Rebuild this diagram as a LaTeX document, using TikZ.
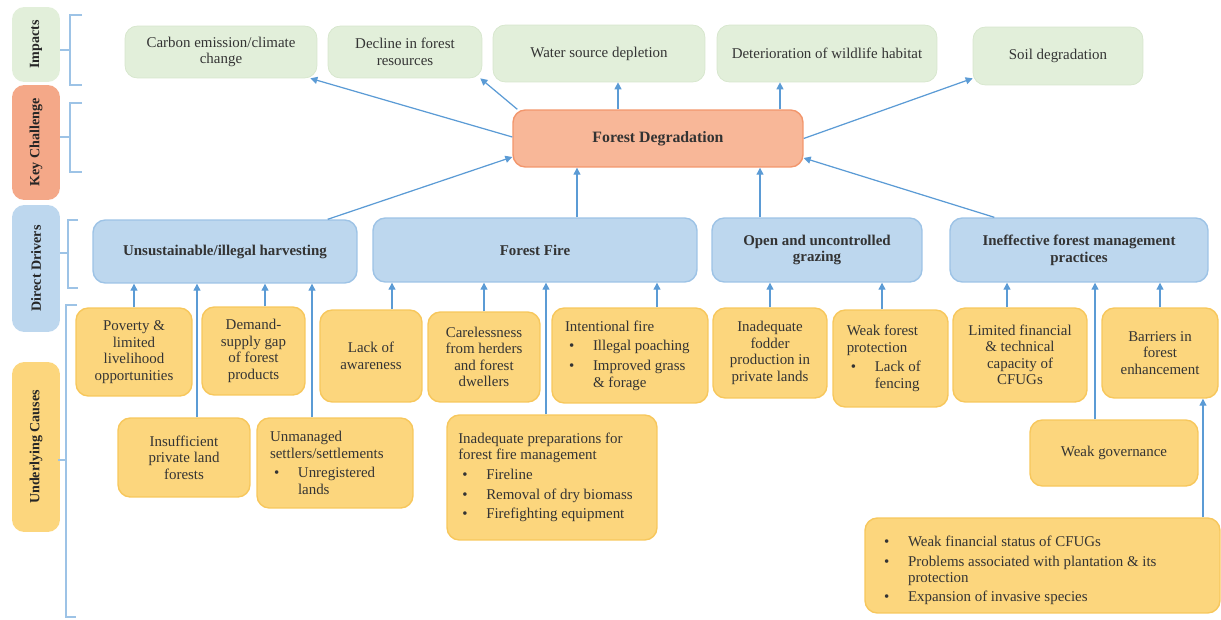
\documentclass[tikz,border=0pt]{standalone}
\usepackage{fontspec}
\setmainfont{Liberation Serif}
\usepackage{tikz}
\usetikzlibrary{arrows.meta}
\definecolor{impGreen}{RGB}{226,239,218}
\definecolor{impGreenLine}{RGB}{214,230,204}
\definecolor{keyRed}{RGB}{244,168,136}
\definecolor{fdFill}{RGB}{248,183,152}
\definecolor{fdLine}{RGB}{242,150,108}
\definecolor{drvBlue}{RGB}{189,215,238}
\definecolor{drvLine}{RGB}{157,195,230}
\definecolor{cauYellow}{RGB}{252,214,125}
\definecolor{cauLine}{RGB}{247,199,92}
\definecolor{linkBlue}{RGB}{91,155,213}
\definecolor{inkGrey}{RGB}{52,52,52}
% bullet line: #1 = width of the text part
\newcommand{\bitem}[2]{\par\vspace{1.8pt}\noindent\makebox[0.56cm][l]{\hspace{0.08cm}\textbullet}\parbox[t]{#1}{\raggedright #2}}
\tikzstyle{baseBox} = [rectangle, rounded corners=7pt, inner sep=2pt,
   font=\fontsize{8.5}{9.4}\selectfont, text=inkGrey]
\tikzstyle{sideBox} = [baseBox, rotate=90, minimum height=0.96cm,
   font=\fontsize{8}{9}\selectfont\bfseries, text=black!85]
\tikzstyle{impactBox} = [baseBox, fill=impGreen, draw=impGreenLine, align=center]
\tikzstyle{challengeBox} = [baseBox, fill=fdFill, draw=fdLine, line width=0.8pt,
   font=\fontsize{9}{10}\selectfont\bfseries, text=black!80]
\tikzstyle{driverBox} = [baseBox, fill=drvBlue, draw=drvLine, line width=0.8pt, align=center,
   font=\fontsize{8.5}{9.6}\selectfont\bfseries, text=black!80]
\tikzstyle{causeBox} = [baseBox, fill=cauYellow, draw=cauLine, line width=0.8pt, align=center]
\tikzstyle{listBox} = [causeBox, align=flush left]
\tikzstyle{upArrow} = [draw=linkBlue, line width=0.7pt, -{Triangle[length=4pt,width=4pt]}]
\tikzstyle{bracketLine} = [draw=drvLine, line width=0.8pt]

\begin{document}
\begin{tikzpicture}[x=0.02cm, y=-0.02cm]
  \useasboundingbox (0,0) rectangle (1221,619);

  % level labels on the left
  \node[sideBox, fill=impGreen, minimum width=1.5cm] (sImp) at (36,44.5) {Impacts};
  \node[sideBox, fill=keyRed, minimum width=2.3cm] (sKey) at (36,142.5) {Key Challenge};
  \node[sideBox, fill=drvBlue, minimum width=2.54cm] (sDrv) at (36,268.5) {Direct Drivers};
  \node[sideBox, fill=cauYellow, minimum width=3.4cm] (sCau) at (36,447) {Underlying Causes};

  \draw[bracketLine] (82,15) -- (70,15) -- (70,85) -- (82,85) (60,50) -- (70,50);
  \draw[bracketLine] (82,103) -- (70,103) -- (70,172) -- (82,172) (60,137) -- (70,137);
  \draw[bracketLine] (78,220) -- (68,220) -- (68,288) -- (78,288) (60,253) -- (68,253);
  \draw[bracketLine] (77,305) -- (66,305) -- (66,617) -- (76,617) (58,460) -- (66,460);

  % impacts
  \node[impactBox, minimum width=3.84cm, minimum height=1.04cm] (imp1) at (221,52) {Carbon emission/climate\\change};
  \node[impactBox, minimum width=3.08cm, minimum height=1.04cm] (imp2) at (405,52) {Decline in forest\\resources};
  \node[impactBox, minimum width=4.24cm, minimum height=1.14cm] (imp3) at (599,53.5) {Water source depletion};
  \node[impactBox, minimum width=4.4cm, minimum height=1.14cm] (imp4) at (827,53.5) {Deterioration of wildlife habitat};
  \node[impactBox, minimum width=3.4cm, minimum height=1.16cm] (imp5) at (1058,56) {Soil degradation};

  % key challenge
  \node[challengeBox, minimum width=5.8cm, minimum height=1.14cm] (fd) at (658,138.5) {Forest Degradation};

  % direct drivers
  \node[driverBox, minimum width=5.28cm, minimum height=1.26cm] (drv1) at (225,251.5) {Unsustainable/illegal harvesting};
  \node[driverBox, minimum width=6.48cm, minimum height=1.28cm] (drv2) at (535,250) {Forest Fire};
  \node[driverBox, minimum width=4.2cm, minimum height=1.28cm] (drv3) at (817,250) {Open and uncontrolled\\grazing};
  \node[driverBox, minimum width=5.16cm, minimum height=1.28cm] (drv4) at (1079,250) {Ineffective forest management\\practices};

  % underlying causes
  \node[causeBox, minimum width=2.32cm, minimum height=1.76cm] (c1) at (134,352) {Poverty \&\\limited\\livelihood\\opportunities};
  \node[causeBox, minimum width=2.06cm, minimum height=1.76cm] (c2) at (253.5,351) {Demand-\\supply gap\\of forest\\products};
  \node[causeBox, minimum width=2.04cm, minimum height=1.84cm] (c3) at (371,356) {Lack of\\awareness};
  \node[causeBox, minimum width=2.24cm, minimum height=1.8cm] (c4) at (484,357) {Carelessness\\from herders\\and forest\\dwellers};
  \node[listBox, minimum width=3.12cm, minimum height=1.9cm, text width=2.6cm] (c5) at (630,355.5)
    {Intentional fire\bitem{2.0cm}{Illegal poaching}\bitem{2.0cm}{Improved grass\\\& forage}};
  \node[causeBox, minimum width=2.28cm, minimum height=1.8cm] (c6) at (770,353) {Inadequate\\fodder\\production in\\private lands};
  \node[listBox, minimum width=2.3cm, minimum height=1.94cm, text width=1.75cm] (c7) at (890.5,358.5)
    {Weak forest\\protection\bitem{1.2cm}{Lack of\\fencing}};
  \node[causeBox, minimum width=2.68cm, minimum height=1.88cm] (c8) at (1020,355) {Limited financial\\\& technical\\capacity of\\CFUGs};
  \node[causeBox, minimum width=2.32cm, minimum height=1.8cm] (c9) at (1160,353) {Barriers in\\forest\\enhancement};
  \node[causeBox, minimum width=2.64cm, minimum height=1.58cm] (c10) at (184,457.5) {Insufficient\\private land\\forests};
  \node[listBox, minimum width=3.12cm, minimum height=1.8cm, text width=2.6cm] (c11) at (335,463)
    {Unmanaged\\settlers/settlements\bitem{2.0cm}{Unregistered\\lands}};
  \node[listBox, minimum width=4.2cm, minimum height=2.5cm, text width=3.75cm] (c12) at (552,477.5)
    {Inadequate preparations for\\forest fire management\bitem{3.1cm}{Fireline}\bitem{3.1cm}{Removal of dry biomass}\bitem{3.1cm}{Firefighting equipment}};
  \node[causeBox, minimum width=3.36cm, minimum height=1.32cm] (c13) at (1114,453) {Weak governance};
  \node[listBox, minimum width=7.1cm, minimum height=1.9cm, text width=6.5cm] (c14) at (1042.5,565.5)
    {\bitem{5.9cm}{Weak financial status of CFUGs}\bitem{5.9cm}{Problems associated with plantation \& its\\protection}\bitem{5.9cm}{Expansion of invasive species}};

  % forest degradation to impacts
  \draw[upArrow] ([yshift=0.03cm]fd.west) -- ([xshift=-0.14cm]imp1.south east);
  \draw[upArrow] ([xshift=0.1cm]fd.north west) -- ([xshift=-0.04cm]imp2.south east);
  \draw[upArrow] ([xshift=-0.8cm]fd.north) -- ([xshift=-0.8cm]fd.north |- imp3.south);
  \draw[upArrow] ([xshift=2.44cm]fd.north) -- ([xshift=2.44cm]fd.north |- imp4.south);
  \draw[upArrow] (fd.east) -- ([yshift=0.14cm]imp5.south west);

  % drivers to forest degradation
  \draw[upArrow] ([xshift=-0.6cm]drv1.north east) -- ([yshift=-0.37cm]fd.west);
  \draw[upArrow] ([xshift=0.84cm]drv2.north) -- ([xshift=0.84cm]drv2.north |- fd.south);
  \draw[upArrow] ([xshift=-1.14cm]drv3.north) -- ([xshift=-1.14cm]drv3.north |- fd.south);
  \draw[upArrow] ([xshift=0.9cm]drv4.north west) -- ([yshift=-0.39cm]fd.east);

  % causes to drivers
  \draw[upArrow] (c1.north) -- (c1.north |- drv1.south);
  \draw[upArrow] ([xshift=0.23cm]c2.north) -- ([xshift=0.23cm]c2.north |- drv1.south);
  \draw[upArrow] ([xshift=0.26cm]c10.north) -- ([xshift=0.26cm]c10.north |- drv1.south);
  \draw[upArrow] ([xshift=-0.46cm]c11.north) -- ([xshift=-0.46cm]c11.north |- drv1.south);
  \draw[upArrow] ([xshift=0.42cm]c3.north) -- ([xshift=0.42cm]c3.north |- drv2.south);
  \draw[upArrow] (c4.north) -- (c4.north |- drv2.south);
  \draw[upArrow] ([xshift=-0.12cm]c12.north) -- ([xshift=-0.12cm]c12.north |- drv2.south);
  \draw[upArrow] ([xshift=0.54cm]c5.north) -- ([xshift=0.54cm]c5.north |- drv2.south);
  \draw[upArrow] (c6.north) -- (c6.north |- drv3.south);
  \draw[upArrow] ([xshift=-0.17cm]c7.north) -- ([xshift=-0.17cm]c7.north |- drv3.south);
  \draw[upArrow] ([xshift=-0.26cm]c8.north) -- ([xshift=-0.26cm]c8.north |- drv4.south);
  \draw[upArrow] ([xshift=-0.38cm]c13.north) -- ([xshift=-0.38cm]c13.north |- drv4.south);
  \draw[upArrow] (c9.north) -- (c9.north |- drv4.south);
  \draw[upArrow] ([xshift=3.21cm]c14.north) -- ([xshift=3.21cm]c14.north |- c9.south);
\end{tikzpicture}
\end{document}
